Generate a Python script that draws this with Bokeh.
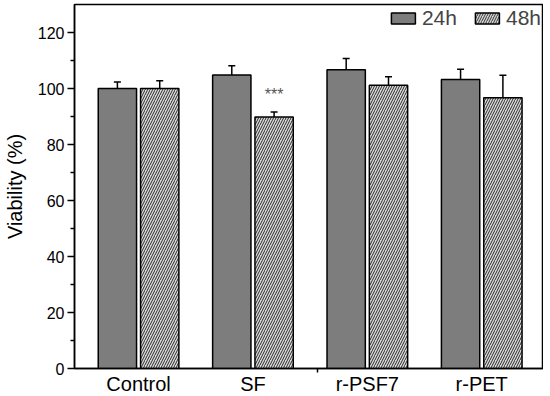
from bokeh.plotting import figure
from bokeh.models import ColumnDataSource, Whisker, TeeHead, FixedTicker, Range1d, Legend, LegendItem
from bokeh.embed import file_html
from bokeh.resources import INLINE
from bokeh.core.properties import value

categories = ["Control", "SF", "r-PSF7", "r-PET"]
v24 = [100.0, 104.8, 106.7, 103.2]
e24 = [2.3, 3.3, 4.0, 3.7]
v48 = [100.0, 89.8, 101.2, 96.7]
e48 = [2.8, 1.8, 3.0, 8.0]
y_ticks = [0, 20, 40, 60, 80, 100, 120]
star_label = "***"

FONT = "Liberation Sans"
xs = [i + 1 for i in range(len(categories))]
off = 0.185
w = 0.335

src24 = ColumnDataSource(dict(x=[x - off for x in xs], top=v24,
                              upper=[a + b for a, b in zip(v24, e24)],
                              lower=[a - b for a, b in zip(v24, e24)]))
src48 = ColumnDataSource(dict(x=[x + off for x in xs], top=v48,
                              upper=[a + b for a, b in zip(v48, e48)],
                              lower=[a - b for a, b in zip(v48, e48)]))

p = figure(frame_width=469, frame_height=364, output_backend="svg", toolbar_location=None,
           x_range=Range1d(0.44, 4.54), y_range=Range1d(0, 130),
           min_border_left=65, min_border_right=0, min_border_top=4, min_border_bottom=1)

r24 = p.vbar(x="x", top="top", width=w, source=src24, fill_color="#7d7d7d",
             line_color="black", line_width=1.5)
r48 = p.vbar(x="x", top="top", width=w, source=src48, fill_color="#dadada",
             line_color="black", line_width=1.5, hatch_pattern="/",
             hatch_color="#2a2a2a", hatch_scale=5, hatch_weight=1.0)

for s in (src24, src48):
    wk = Whisker(base="x", upper="upper", lower="lower", source=s,
                 line_color="black", line_width=1.5,
                 upper_head=TeeHead(size=7, line_color="black", line_width=1.5),
                 lower_head=TeeHead(size=7, line_color="black", line_width=1.5))
    p.add_layout(wk)

p.text(x=[xs[1] + off], y=[v48[1] + e48[1] + 6.2], text=[star_label],
       text_font=value(FONT), text_font_size="16px", text_color="#555555",
       text_align="center", text_baseline="alphabetic")

legend = Legend(items=[LegendItem(label="24h", renderers=[r24]),
                       LegendItem(label="48h", renderers=[r48])],
                location="top_right", orientation="horizontal")
legend.background_fill_alpha = 0
legend.border_line_alpha = 0
legend.label_text_font = FONT
legend.label_text_font_size = "21px"
legend.glyph_width = 30
legend.glyph_height = 14
legend.label_standoff = 4
legend.spacing = 15
legend.padding = 0
legend.margin = 2
legend.label_height = 15
p.add_layout(legend)

p.grid.visible = False
p.outline_line_color = "black"
p.outline_line_width = 1.5

p.xaxis.ticker = FixedTicker(ticks=xs, minor_ticks=[2.56])
p.xaxis.major_label_overrides = {x: c for x, c in zip(xs, categories)}
p.xaxis.axis_label = None
p.xaxis.major_tick_out = 0
p.xaxis.major_tick_in = 0
p.xaxis.minor_tick_out = 4
p.xaxis.minor_tick_in = 0
p.xaxis.major_label_standoff = 0
p.xaxis.major_label_text_font = FONT
p.xaxis.major_label_text_font_size = "20px"
p.xaxis.major_label_text_color = "black"

p.yaxis.ticker = FixedTicker(ticks=y_ticks, minor_ticks=[10, 30, 50, 70, 90, 110])
p.yaxis.major_tick_out = 7
p.yaxis.major_tick_in = 0
p.yaxis.minor_tick_out = 4
p.yaxis.minor_tick_in = 0
p.yaxis.major_label_standoff = 3
p.yaxis.major_label_text_font = FONT
p.yaxis.major_label_text_font_size = "16px"
p.yaxis.major_label_text_color = "black"
p.yaxis.axis_label = "Viability (%)"
p.yaxis.axis_label_text_font = FONT
p.yaxis.axis_label_text_font_size = "20px"
p.yaxis.axis_label_text_font_style = "normal"
p.yaxis.axis_label_text_color = "black"
p.yaxis.axis_label_standoff = 9

for ax in (p.xaxis, p.yaxis):
    ax.axis_line_color = "black"
    ax.axis_line_width = 1.5
    ax.major_tick_line_color = "black"
    ax.major_tick_line_width = 1.5
    ax.minor_tick_line_color = "black"
    ax.minor_tick_line_width = 1.5

open("out.html", "w").write(file_html(p, INLINE))
